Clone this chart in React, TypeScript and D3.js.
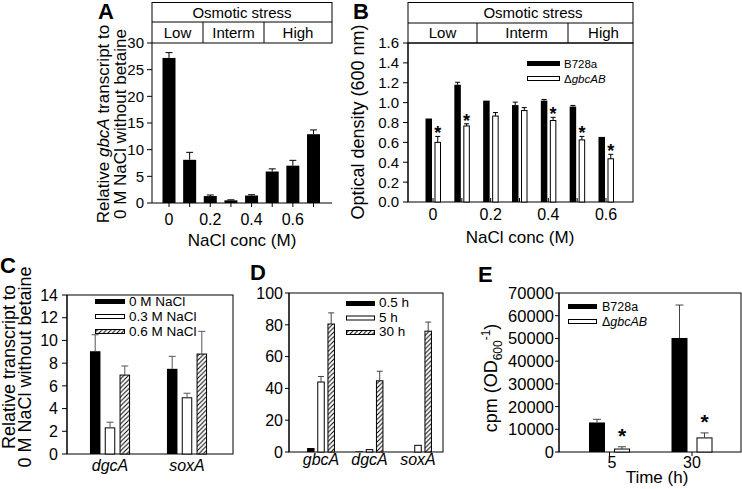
import React from "react";
import * as d3 from "d3";

const FONT = "'Liberation Sans', Arial, Helvetica, sans-serif";

// ---------- Panel A data ----------
const naclA = [0, 0.1, 0.2, 0.3, 0.4, 0.5, 0.6, 0.7];
const gbcARel = [27.2, 8.1, 1.3, 0.5, 1.4, 5.9, 7.0, 12.9];
const gbcARelErr = [1.0, 1.4, 0.2, 0.1, 0.15, 0.5, 1.0, 0.8];
const naclTickLabels = [0, 0.2, 0.4, 0.6];
const yTicksA = [0, 5, 10, 15, 20, 25, 30];
const stressLevels = ["Low", "Interm", "High"];
const stressTitle = "Osmotic stress";

// ---------- Panel B data ----------
const naclB = [0, 0.1, 0.2, 0.3, 0.4, 0.5, 0.6];
const odWT = [0.84, 1.18, 1.02, 0.975, 1.02, 0.96, 0.655];
const odWTErr = [0.005, 0.025, 0.005, 0.03, 0.012, 0.012, 0.004];
const odMut = [0.6, 0.765, 0.865, 0.92, 0.82, 0.625, 0.435];
const odMutErr = [0.06, 0.022, 0.035, 0.03, 0.032, 0.035, 0.045];
const odMutSig = [true, true, false, false, true, true, true];
const yTicksB = [0, 0.2, 0.4, 0.6, 0.8, 1.0, 1.2, 1.4, 1.6];
const strainNames = ["B728a", "gbcAB"];

// ---------- Panel C data ----------
const genesC = ["dgcA", "soxA"];
const seriesC = ["0 M NaCl", "0.3 M NaCl", "0.6 M NaCl"];
const c0M = [9.05, 7.5];
const c0MErr = [1.45, 1.1];
const c03M = [2.3, 4.95];
const c03MErr = [0.5, 0.4];
const c06M = [6.95, 8.8];
const c06MErr = [0.8, 2.0];
const yTicksC = [0, 2, 4, 6, 8, 10, 12, 14];

// ---------- Panel D data ----------
const genesD = ["gbcA", "dgcA", "soxA"];
const seriesD = ["0.5 h", "5 h", "30 h"];
const d05h = [2.5, 0.4, 0];
const d05hErr = [0, 0, 0];
const d5h = [44, 1.5, 4.2];
const d5hErr = [3.5, 0, 0];
const d30h = [80.5, 44.8, 76];
const d30hErr = [7, 6, 5.7];
const yTicksD = [0, 20, 40, 60, 80, 100];

// ---------- Panel E data ----------
const timesE = ["5", "30"];
const cpmWT = [13000, 50200];
const cpmWTErr = [1400, 14500];
const cpmMut = [1300, 6200];
const cpmMutErr = [1000, 2200];
const cpmMutSig = [true, true];
const yTicksE = [0, 10000, 20000, 30000, 40000, 50000, 60000, 70000];

type Scale = (v: number) => number;

function YAxis({ scale, x, y0, y1, ticks, fmt, fontSize, tickLen = 5, gap = 3 }: any) {
  return (
    <g>
      <line x1={x} x2={x} y1={y0} y2={y1} stroke="#000" strokeWidth={1} />
      {ticks.map((t: number) => (
        <g key={t}>
          <line x1={x - tickLen} x2={x} y1={scale(t)} y2={scale(t)} stroke="#000" />
          <text x={x - tickLen - gap} y={scale(t)} dy="0.36em" textAnchor="end" fontSize={fontSize}>
            {fmt(t)}
          </text>
        </g>
      ))}
    </g>
  );
}

function ErrBar({ x, yTop, yBar, half, color = "#000" }: any) {
  if (Math.abs(yBar - yTop) < 0.5) return null;
  return (
    <g stroke={color} strokeWidth={1}>
      <line x1={x} x2={x} y1={yBar} y2={yTop} />
      <line x1={x - half} x2={x + half} y1={yTop} y2={yTop} />
    </g>
  );
}

function Bar({ x0, x1, y, base, kind }: any) {
  const h = base - y;
  if (h <= 0.2) return null;
  if (kind === "black") return <rect x={x0} y={y} width={x1 - x0} height={h} fill="#000" />;
  if (kind === "white")
    return <rect x={x0 + 0.5} y={y} width={x1 - x0 - 1} height={h} fill="#fff" stroke="#000" strokeWidth={1} />;
  return (
    <g>
      <rect x={x0 + 0.5} y={y} width={x1 - x0 - 1} height={h} fill="#fff" />
      <rect x={x0 + 0.5} y={y} width={x1 - x0 - 1} height={h} fill="url(#hatch)" stroke="#000" strokeWidth={1} />
    </g>
  );
}

function Swatch({ x, y, w, h, kind }: any) {
  if (kind === "black") return <rect x={x} y={y} width={w} height={h} fill="#000" />;
  if (kind === "white") return <rect x={x + 0.5} y={y + 0.5} width={w - 1} height={h - 1} fill="#fff" stroke="#000" />;
  return (
    <g>
      <rect x={x + 0.5} y={y + 0.5} width={w - 1} height={h - 1} fill="#fff" />
      <rect x={x + 0.5} y={y + 0.5} width={w - 1} height={h - 1} fill="url(#hatch)" stroke="#000" />
    </g>
  );
}

function PanelA() {
  const L = 152, R = 332, T = 43, B = 203;
  const x = d3.scaleLinear().domain([0, 0.7]).range([169, 313.5]);
  const y = d3.scaleLinear().domain([0, 30]).range([B, T]);
  const cells = [152, 203, 264, 332];
  const bw = 13;
  return (
    <g>
      <text x={98} y={19} fontSize={22} fontWeight="bold">A</text>
      {/* header */}
      <rect x={L} y={2.5} width={R - L} height={T - 2.5} fill="none" stroke="#000" />
      <line x1={L} x2={R} y1={22} y2={22} stroke="#000" />
      {cells.slice(1, -1).map((c) => (
        <line key={c} x1={c} x2={c} y1={22} y2={T} stroke="#000" />
      ))}
      <text x={(L + R) / 2} y={18} textAnchor="middle" fontSize={15}>{stressTitle}</text>
      {stressLevels.map((s, i) => (
        <text key={s} x={(cells[i] + cells[i + 1]) / 2} y={38} textAnchor="middle" fontSize={15}>{s}</text>
      ))}
      {/* bars */}
      {naclA.map((n, i) => (
        <g key={n}>
          <Bar x0={x(n) - bw / 2} x1={x(n) + bw / 2} y={y(gbcARel[i])} base={B} kind="black" />
          <ErrBar x={x(n)} yBar={y(gbcARel[i])} yTop={y(gbcARel[i] + gbcARelErr[i])} half={3.5} />
        </g>
      ))}
      {/* axes */}
      <YAxis scale={y} x={L} y0={T} y1={B} ticks={yTicksA} fmt={(t: number) => String(t)} fontSize={15} tickLen={5} gap={3} />
      <line x1={L} x2={R} y1={B} y2={B} stroke="#000" />
      {naclA.map((n) => (
        <line key={n} x1={x(n)} x2={x(n)} y1={B} y2={B + 4} stroke="#000" />
      ))}
      {naclTickLabels.map((n) => (
        <text key={n} x={x(n)} y={225} textAnchor="middle" fontSize={16}>{String(n)}</text>
      ))}
      <text x={242} y={246} textAnchor="middle" fontSize={17}>NaCl conc (M)</text>
      <text transform="translate(109,124) rotate(-90)" textAnchor="middle" fontSize={17}>
        Relative <tspan fontStyle="italic">gbcA</tspan> transcript to
      </text>
      <text transform="translate(126,124) rotate(-90)" textAnchor="middle" fontSize={17}>
        0 M NaCl without betaine
      </text>
    </g>
  );
}

function PanelB() {
  const L = 408, R = 633, T = 43, B = 202;
  const x = d3.scaleLinear().domain([0, 0.6]).range([433, 606]);
  const y = d3.scaleLinear().domain([0, 1.6]).range([B, T]);
  const cells = [408, 477, 568, 633];
  return (
    <g>
      <text x={353} y={19} fontSize={22} fontWeight="bold">B</text>
      <rect x={L} y={2.5} width={R - L} height={T - 2.5} fill="none" stroke="#000" />
      <line x1={L} x2={R} y1={23} y2={23} stroke="#000" />
      {cells.slice(1, -1).map((c) => (
        <line key={c} x1={c} x2={c} y1={23} y2={T} stroke="#000" />
      ))}
      <text x={533} y={18} textAnchor="middle" fontSize={15}>{stressTitle}</text>
      {stressLevels.map((s, i) => (
        <text key={s} x={(cells[i] + cells[i + 1]) / 2 + (i === 1 ? 4 : i === 2 ? 3 : 0)} y={38} textAnchor="middle" fontSize={15}>{s}</text>
      ))}
      <rect x={L} y={T} width={R - L} height={B - T} fill="none" stroke="#000" />
      {naclB.map((n, i) => {
        const c = x(n);
        const yW = y(odWT[i]);
        const yM = y(odMut[i]);
        const yMe = y(odMut[i] + odMutErr[i]);
        return (
          <g key={n}>
            <Bar x0={c - 7.5} x1={c - 1} y={yW} base={B} kind="black" />
            <ErrBar x={c - 4.25} yBar={yW} yTop={y(odWT[i] + odWTErr[i])} half={2.5} />
            <Bar x0={c + 1.5} x1={c + 8} y={yM} base={B} kind="white" />
            <ErrBar x={c + 4.75} yBar={yM} yTop={yMe} half={2.5} />
            {odMutSig[i] && (
              <text x={c + 4.75} y={yMe + 3} textAnchor="middle" fontSize={18} fontWeight="bold">*</text>
            )}
          </g>
        );
      })}
      <YAxis scale={y} x={L} y0={T} y1={B} ticks={yTicksB} fmt={d3.format(".1f")} fontSize={15} tickLen={5} gap={4} />
      {naclB.map((n) => (
        <line key={n} x1={x(n)} x2={x(n)} y1={B} y2={B - 4} stroke="#000" />
      ))}
      {naclTickLabels.map((n) => (
        <text key={n} x={x(n)} y={220} textAnchor="middle" fontSize={16}>{String(n)}</text>
      ))}
      <text x={520} y={243} textAnchor="middle" fontSize={17}>NaCl conc (M)</text>
      <text transform="translate(364,122) rotate(-90)" textAnchor="middle" fontSize={18}>
        Optical density (600 nm)
      </text>
      {/* legend */}
      <Swatch x={527} y={61} w={33} h={5} kind="black" />
      <text x={564} y={67.5} fontSize={11.5}>{strainNames[0]}</text>
      <Swatch x={527} y={76} w={33} h={5} kind="white" />
      <text x={564} y={82.5} fontSize={11.5}>Δ<tspan fontStyle="italic">{strainNames[1]}</tspan></text>
    </g>
  );
}

function PanelC() {
  const L = 67, R = 233, T = 295, B = 454;
  const xg = d3.scalePoint().domain(genesC).range([110, 187]);
  const y = d3.scaleLinear().domain([0, 14]).range([B, T]);
  const kinds = ["black", "white", "hatch"];
  const vals = [c0M, c03M, c06M];
  const errs = [c0MErr, c03MErr, c06MErr];
  const step = 14.8, bw = 10.5;
  return (
    <g>
      <text x={0} y={273} fontSize={22} fontWeight="bold">C</text>
      <rect x={L} y={T} width={R - L} height={B - T} fill="none" stroke="#000" />
      {genesC.map((g, gi) => (
        <g key={g}>
          {kinds.map((k, si) => {
            const c = (xg(g) as number) + (si - 1) * step;
            const yv = y(vals[si][gi]);
            return (
              <g key={k}>
                <Bar x0={c - bw / 2} x1={c + bw / 2} y={yv} base={B} kind={k} />
                <ErrBar x={c} yBar={yv} yTop={y(vals[si][gi] + errs[si][gi])} half={3.5} color="#555" />
              </g>
            );
          })}
          <text x={xg(g)} y={471} textAnchor="middle" fontSize={16} fontStyle="italic">{g}</text>
        </g>
      ))}
      <YAxis scale={y} x={L} y0={T} y1={B} ticks={yTicksC} fmt={(t: number) => String(t)} fontSize={16} tickLen={5} gap={4} />
      {seriesC.map((s, i) => (
        <g key={s}>
          <Swatch x={95} y={299 + i * 15} w={30} h={5} kind={kinds[i]} />
          <text x={129} y={305.5 + i * 15} fontSize={13.5}>{s}</text>
        </g>
      ))}
      <text transform="translate(15,367) rotate(-90)" textAnchor="middle" fontSize={18}>
        Relative transcript to
      </text>
      <text transform="translate(31,367) rotate(-90)" textAnchor="middle" fontSize={18}>
        0 M NaCl without betaine
      </text>
    </g>
  );
}

function PanelD() {
  const L = 289, R = 443, T = 293, B = 452;
  const xg = d3.scalePoint().domain(genesD).range([321, 418]);
  const y = d3.scaleLinear().domain([0, 100]).range([B, T]);
  const kinds = ["black", "white", "hatch"];
  const vals = [d05h, d5h, d30h];
  const errs = [d05hErr, d5hErr, d30hErr];
  const step = 10.2, bw = 7.5;
  return (
    <g>
      <text x={250} y={280} fontSize={22} fontWeight="bold">D</text>
      <rect x={L} y={T} width={R - L} height={B - T} fill="none" stroke="#000" />
      {genesD.map((g, gi) => (
        <g key={g}>
          {kinds.map((k, si) => {
            const c = (xg(g) as number) + (si - 1) * step;
            const yv = y(vals[si][gi]);
            return (
              <g key={k}>
                <Bar x0={c - bw / 2} x1={c + bw / 2} y={yv} base={B} kind={k} />
                <ErrBar x={c} yBar={yv} yTop={y(vals[si][gi] + errs[si][gi])} half={3} color="#444" />
              </g>
            );
          })}
          <text x={xg(g)} y={465} textAnchor="middle" fontSize={16} fontStyle="italic">{g}</text>
        </g>
      ))}
      <YAxis scale={y} x={L} y0={T} y1={B} ticks={yTicksD} fmt={(t: number) => String(t)} fontSize={16} tickLen={4} gap={2} />
      {seriesD.map((s, i) => (
        <g key={s}>
          <Swatch x={346} y={301 + i * 14.5} w={29} h={5} kind={kinds[i]} />
          <text x={379} y={307 + i * 14.5} fontSize={13.5}>{s}</text>
        </g>
      ))}
    </g>
  );
}

function PanelE() {
  const L = 559, R = 741, T = 293, B = 452;
  const xg = d3.scalePoint().domain(timesE).range([609.5, 692]);
  const y = d3.scaleLinear().domain([0, 70000]).range([B, T]);
  const bw = 16, off = 12.5;
  return (
    <g>
      <text x={478} y={282} fontSize={22} fontWeight="bold">E</text>
      <rect x={L} y={T} width={R - L} height={B - T} fill="none" stroke="#000" />
      {timesE.map((t, i) => {
        const c = xg(t) as number;
        const yW = y(cpmWT[i]);
        const yM = y(cpmMut[i]);
        const yMe = y(cpmMut[i] + cpmMutErr[i]);
        return (
          <g key={t}>
            <Bar x0={c - off - bw / 2} x1={c - off + bw / 2} y={yW} base={B} kind="black" />
            <ErrBar x={c - off} yBar={yW} yTop={y(cpmWT[i] + cpmWTErr[i])} half={4} color="#444" />
            <Bar x0={c + off - bw / 2} x1={c + off + bw / 2} y={yM} base={B} kind="white" />
            <ErrBar x={c + off} yBar={yM} yTop={yMe} half={4} color="#444" />
            {cpmMutSig[i] && (
              <text x={c + off} y={yMe - 4} textAnchor="middle" fontSize={21} fontWeight="bold">*</text>
            )}
            <line x1={c} x2={c} y1={B} y2={B + 4} stroke="#000" />
            <text x={c + (i === 0 ? 2.5 : 0)} y={468} textAnchor="middle" fontSize={16}>{t}</text>
          </g>
        );
      })}
      <YAxis scale={y} x={L} y0={T} y1={B} ticks={yTicksE} fmt={(t: number) => String(t)} fontSize={16.5} tickLen={4} gap={1} />
      <text x={657} y={483} textAnchor="middle" fontSize={17}>Time (h)</text>
      <text transform="translate(497,378) rotate(-90)" textAnchor="middle" fontSize={18}>
        cpm (OD<tspan fontSize={12} dy={5}>600</tspan>
        <tspan fontSize={12} dy={-12}>-1</tspan>
        <tspan dy={7}>)</tspan>
      </text>
      <Swatch x={568} y={304} w={29} h={5} kind="black" />
      <text x={602} y={310.5} fontSize={12.5}>{strainNames[0]}</text>
      <Swatch x={568} y={319} w={29} h={5} kind="white" />
      <text x={602} y={325.5} fontSize={12.5}>Δ<tspan fontStyle="italic">{strainNames[1]}</tspan></text>
    </g>
  );
}

export default function App() {
  return (
    <svg
      width={742}
      height={489}
      style={{ position: "absolute", left: 0, top: 0, background: "#fff" }}
      fontFamily={FONT}
    >
      <defs>
        <pattern id="hatch" patternUnits="userSpaceOnUse" width={4.5} height={4.5}>
          <path d="M-1,1 l2,-2 M0,4.5 l4.5,-4.5 M3.5,5.5 l2,-2" stroke="#000" strokeWidth={1} />
        </pattern>
      </defs>
      <rect width={742} height={489} fill="#fff" />
      <PanelA />
      <PanelB />
      <PanelC />
      <PanelD />
      <PanelE />
    </svg>
  );
}
